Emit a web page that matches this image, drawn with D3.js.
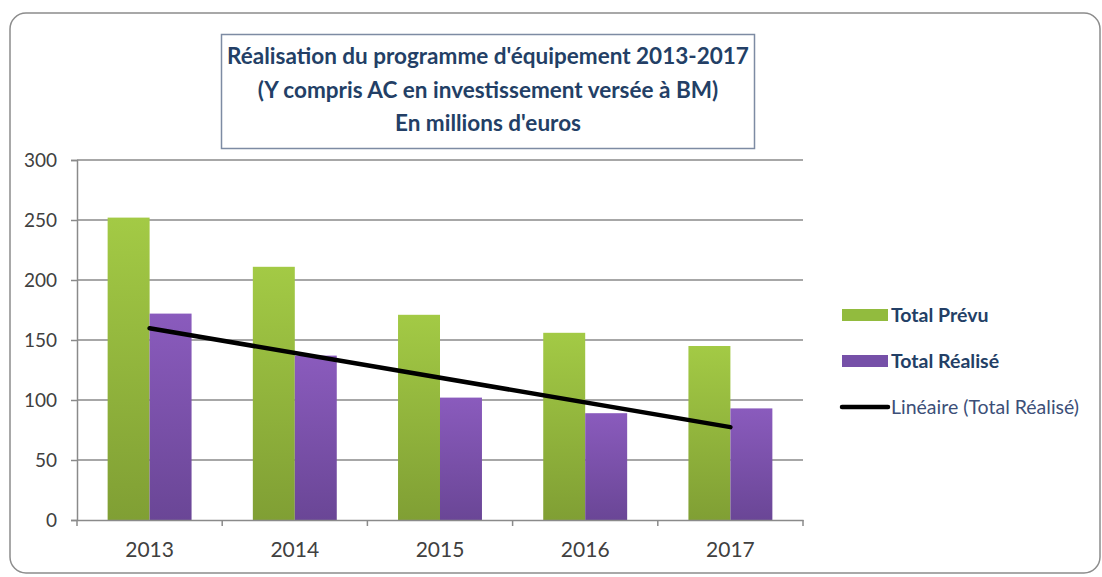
<!DOCTYPE html>
<html>
<head>
<meta charset="utf-8">
<title>Réalisation du programme d'équipement</title>
<script src="https://d3js.org/d3.v7.min.js"></script>
<style>
  html, body { margin: 0; padding: 0; background: #fff; }
  svg { display: block; font-family: Lato, "Open Sans", sans-serif; }
</style>
</head>
<body>
<svg id="chart" width="1102" height="577"></svg>
<script>
// chart data
var years = ["2013", "2014", "2015", "2016", "2017"];
var totalPrevu = [252, 211, 171, 156, 145];
var totalRealise = [172, 137, 102, 89, 93];
var yTicks = [0, 50, 100, 150, 200, 250, 300];
var seriesNames = ["Total Prévu", "Total Réalisé"];
var trendName = "Linéaire (Total Réalisé)";
var titleLines = [
  "Réalisation du programme d'équipement 2013-2017",
  "(Y compris AC en investissement versée à BM)",
  "En millions d'euros"
];

var svg = d3.select("#chart");
var margin = {top: 160, right: 299, bottom: 57, left: 77},
    width = 1102 - margin.left - margin.right,
    height = 577 - margin.top - margin.bottom;

var defs = svg.append("defs");
var gGreen = defs.append("linearGradient").attr("id", "gradGreen")
  .attr("x1", 0).attr("y1", 0).attr("x2", 0).attr("y2", 1);
gGreen.append("stop").attr("offset", "0%").attr("stop-color", "#a3ca45");
gGreen.append("stop").attr("offset", "100%").attr("stop-color", "#809f34");
var gPurple = defs.append("linearGradient").attr("id", "gradPurple")
  .attr("x1", 0).attr("y1", 0).attr("x2", 0).attr("y2", 1);
gPurple.append("stop").attr("offset", "0%").attr("stop-color", "#8a5bbd");
gPurple.append("stop").attr("offset", "100%").attr("stop-color", "#6a4696");
var fills = ["url(#gradGreen)", "url(#gradPurple)"];
var swatchFills = ["#92bb3e", "#7650a8"];

// outer frame
svg.append("rect")
  .attr("x", 10).attr("y", 13).attr("width", 1090).attr("height", 560)
  .attr("rx", 16).attr("ry", 16)
  .attr("fill", "#fff").attr("stroke", "#8c8c8c").attr("stroke-width", 1.5);

var g = svg.append("g").attr("transform", "translate(" + margin.left + "," + margin.top + ")");

var x0 = d3.scaleBand().domain(years).range([0, width]).paddingInner(0).paddingOuter(0);
var x1 = d3.scaleBand().domain(seriesNames).range([0, x0.bandwidth()]).paddingInner(0).paddingOuter(0.73);
var y = d3.scaleLinear().domain([0, 300]).range([height, 0]);

// gridlines
g.append("g").selectAll("line").data(yTicks.filter(function(d) { return d > 0; }))
  .enter().append("line")
  .attr("x1", 0).attr("x2", width)
  .attr("y1", function(d) { return y(d); }).attr("y2", function(d) { return y(d); })
  .attr("stroke", "#8a8a8a").attr("stroke-width", 1.5);

// bars
var rows = years.map(function(yr, i) { return {year: yr, values: [totalPrevu[i], totalRealise[i]]}; });
var groups = g.append("g").selectAll("g").data(rows).enter().append("g")
  .attr("transform", function(d) { return "translate(" + x0(d.year) + ",0)"; });
groups.selectAll("rect").data(function(d) { return d.values.map(function(v, k) { return {name: seriesNames[k], value: v, k: k}; }); })
  .enter().append("rect")
  .attr("x", function(d) { return x1(d.name); })
  .attr("width", x1.bandwidth())
  .attr("y", function(d) { return y(d.value); })
  .attr("height", function(d) { return height - y(d.value); })
  .attr("fill", function(d) { return fills[d.k]; });

// axes
var yAxis = g.append("g").call(d3.axisLeft(y).tickValues(yTicks).tickSize(6).tickPadding(14));
yAxis.select(".domain").attr("stroke", "#8a8a8a").attr("stroke-width", 1.5);
yAxis.selectAll(".tick line").attr("stroke", "#8a8a8a").attr("stroke-width", 1.5);
yAxis.selectAll("text").attr("font-size", 19).attr("fill", "#404040").attr("font-family", "Lato");

var xAxis = g.append("g").attr("transform", "translate(0," + height + ")")
  .call(d3.axisBottom(x0).tickSize(0).tickPadding(22));
xAxis.select(".domain").attr("stroke", "#8a8a8a").attr("stroke-width", 1.5);
xAxis.selectAll("text").attr("font-size", 21).attr("fill", "#404040").attr("font-family", "Lato");
// boundary tick marks between categories
xAxis.selectAll("line.sep").data(years.concat(["end"])).enter().append("line")
  .attr("class", "sep")
  .attr("x1", function(d, i) { return i * x0.step(); })
  .attr("x2", function(d, i) { return i * x0.step(); })
  .attr("y1", 0).attr("y2", 6)
  .attr("stroke", "#8a8a8a").attr("stroke-width", 1.5);

// linear trend of Total Réalisé (least squares)
var n = totalRealise.length;
var xs = d3.range(1, n + 1);
var mx = d3.mean(xs), my = d3.mean(totalRealise);
var slope = d3.sum(xs, function(v, i) { return (v - mx) * (totalRealise[i] - my); }) /
            d3.sum(xs, function(v) { return (v - mx) * (v - mx); });
var icpt = my - slope * mx;
var trend = [{year: years[0], v: icpt + slope * 1}, {year: years[n - 1], v: icpt + slope * n}];
g.append("path").datum(trend)
  .attr("fill", "none").attr("stroke", "#000").attr("stroke-width", 4.5).attr("stroke-linecap", "round")
  .attr("d", d3.line()
    .x(function(d) { return x0(d.year) + x0.bandwidth() / 2; })
    .y(function(d) { return y(d.v); }));

// title box
svg.append("rect")
  .attr("x", 221.5).attr("y", 34.5).attr("width", 533).attr("height", 114)
  .attr("fill", "#fff").attr("stroke", "#7d8ba3").attr("stroke-width", 1.5);
var title = svg.append("g").attr("font-family", "Lato").attr("font-weight", "bold")
  .attr("fill", "#233f66").attr("text-anchor", "middle");
var tl = title.selectAll("text").data(titleLines).enter().append("text")
  .attr("x", 488).attr("y", function(d, i) { return 64 + i * 33.5; })
  .attr("font-size", 20).text(function(d) { return d; });
var w0 = tl.node().getComputedTextLength();
var fs = 20 * 522 / w0;
tl.attr("font-size", fs);

// legend
var legend = svg.append("g").attr("transform", "translate(842,0)");
var legY = [315, 361, 407];
seriesNames.forEach(function(name, i) {
  legend.append("rect").attr("x", 0).attr("y", legY[i] - 6).attr("width", 46).attr("height", 12)
    .attr("fill", swatchFills[i]);
  legend.append("text").attr("x", 49).attr("y", legY[i]).attr("dy", "0.35em")
    .attr("font-size", 19.5).attr("font-weight", "bold").attr("fill", "#233f66").text(name);
});
legend.append("line").attr("x1", 0).attr("x2", 46).attr("y1", legY[2]).attr("y2", legY[2])
  .attr("stroke", "#000").attr("stroke-width", 4.5).attr("stroke-linecap", "round");
legend.append("text").attr("x", 49).attr("y", legY[2]).attr("dy", "0.35em")
  .attr("font-size", 19.5).attr("fill", "#3c4f78").text(trendName);
</script>
</body>
</html>
